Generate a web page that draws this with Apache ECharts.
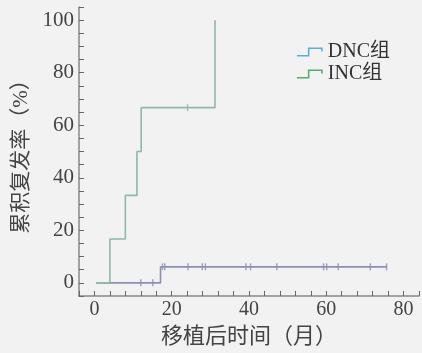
<!DOCTYPE html>
<html><head><meta charset="utf-8">
<script src="https://cdn.jsdelivr.net/npm/echarts@6/dist/echarts.min.js"></script>
<style>html,body{margin:0;padding:0;background:#f2f2f2;}#c{width:422px;height:353px;}</style>
</head><body><div id="c"></div>
<script>
// Kaplan-Meier style cumulative recurrence data
const seriesNames = ["DNC组", "INC组"];
const dncTimes = [0.4, 17.1, 75.6];
const dncValues = [0, 6.1, 6.1];
const dncCensorTimes = [12.0, 15.1, 17.6, 18.2, 24.2, 27.9, 28.7, 39.2, 40.4, 47.2, 59.3, 60.1, 63.1, 71.4, 75.6];
const dncCensorValues = [0, 0, 6.1, 6.1, 6.1, 6.1, 6.1, 6.1, 6.1, 6.1, 6.1, 6.1, 6.1, 6.1, 6.1];
const incTimes = [0.4, 4.0, 8.0, 11.0, 12.1, 31.2];
const incValues = [0, 16.7, 33.3, 50, 66.7, 100];
const incCensorTimes = [24.1];
const incCensorValues = [66.7];
const xTicks = [0, 20, 40, 60, 80];
const yTicks = [0, 20, 40, 60, 80, 100];
const xTitle = "移植后时间（月）";
const yTitle = "累积复发率（%）";

const zip = (a, b) => a.map((v, i) => [v, b[i]]);
const FONT = '"Liberation Serif", "Noto Sans CJK SC", serif';
const dncColor = '#8c8fb4';
const incColor = '#8db8aa';
const stepIcon = 'path://M0,7.5 L11,7.5 L11,0 L26,0 L26,4 L24.4,4 L24.4,1.6 L12.6,1.6 L12.6,9.1 L0,9.1 Z';

const chart = echarts.init(document.getElementById('c'));
chart.setOption({
  backgroundColor: '#f2f2f2',
  animation: false,
  grid: { left: 79, right: 2, top: 7, bottom: 55, containLabel: false },
  legend: {
    orient: 'vertical', left: 292, top: 37, itemWidth: 26, itemHeight: 9, itemGap: 2,
    icon: stepIcon,
    textStyle: { fontFamily: FONT, fontSize: 20, color: '#333' },
    data: [
      { name: seriesNames[0], itemStyle: { color: '#5aaedc' } },
      { name: seriesNames[1], itemStyle: { color: '#5aa872' } }
    ]
  },
  xAxis: {
    type: 'value', min: -4, max: 84, interval: 4,
    axisLine: { onZero: false, lineStyle: { color: '#888', width: 1.5 } },
    axisTick: { inside: true, length: 5, lineStyle: { color: '#666' },
      interval: (i, v) => xTicks.includes(Number(v)) },
    splitLine: { show: false },
    axisLabel: { fontFamily: FONT, fontSize: 20, color: '#444', margin: 4,
      interval: 0,
      formatter: v => xTicks.includes(v) ? String(v) : '' },
    name: xTitle, nameLocation: 'middle', nameGap: 30,
    nameTextStyle: { fontFamily: FONT, fontSize: 22, color: '#444' }
  },
  yAxis: {
    type: 'value', min: -5, max: 105, interval: 5,
    axisLine: { show: true, onZero: false, lineStyle: { color: '#888', width: 1.5 } },
    axisTick: { show: true, inside: true, length: 5, lineStyle: { color: '#666' },
      interval: (i, v) => yTicks.includes(Number(v)) },
    splitLine: { show: false },
    axisLabel: { fontFamily: FONT, fontSize: 21, color: '#444', margin: 5,
      interval: 0,
      formatter: v => yTicks.includes(v) ? String(v) : '' },
    name: yTitle, nameLocation: 'middle', nameGap: 45, nameRotate: 90,
    nameTextStyle: { fontFamily: FONT, fontSize: 21, color: '#444' }
  },
  series: [
    { name: seriesNames[0], type: 'line', step: 'end', symbol: 'none',
      lineStyle: { color: dncColor, width: 1.6 }, itemStyle: { color: dncColor },
      data: zip(dncTimes, dncValues) },
    { name: seriesNames[1], type: 'line', step: 'end', symbol: 'none',
      lineStyle: { color: incColor, width: 1.6 }, itemStyle: { color: incColor },
      data: zip(incTimes, incValues) },
    { name: 'dncCensor', type: 'scatter', symbol: 'rect', symbolSize: [1.5, 7],
      itemStyle: { color: dncColor }, data: zip(dncCensorTimes, dncCensorValues) },
    { name: 'incCensor', type: 'scatter', symbol: 'rect', symbolSize: [1.5, 7],
      itemStyle: { color: incColor }, data: zip(incCensorTimes, incCensorValues) }
  ]
});
</script></body></html>
